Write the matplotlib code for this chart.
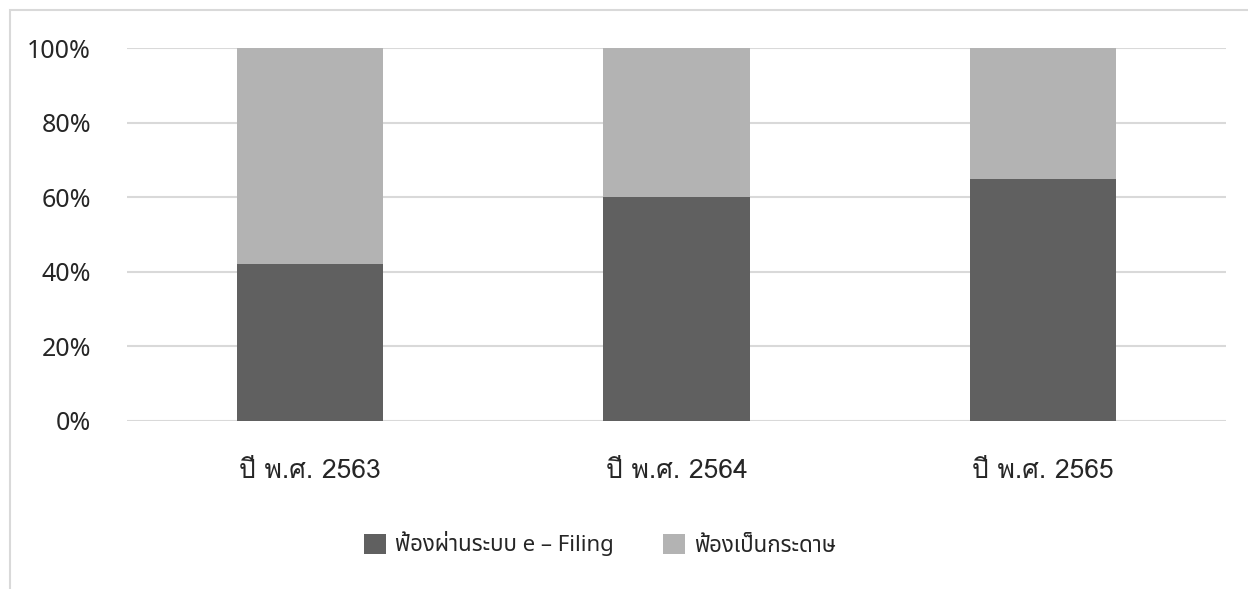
import matplotlib
matplotlib.use("Agg")
import matplotlib.pyplot as plt
from matplotlib.patches import Patch, Rectangle
from matplotlib.ticker import PercentFormatter

years = ["ปี พ.ศ. 2563", "ปี พ.ศ. 2564", "ปี พ.ศ. 2565"]
efiling = [42, 60, 65]
paper = [58, 40, 35]
series_names = ["ฟ้องผ่านระบบ e – Filing", "ฟ้องเป็นกระดาษ"]
yticks = [0, 20, 40, 60, 80, 100]

dark = "#606060"
light = "#b3b3b3"
grid = "#d9d9d9"
text_color = "#262626"

thai_sans = ["Noto Sans Thai", "Noto Sans", "DejaVu Sans"]
tick_thai = ["Loma", "Noto Sans Thai", "DejaVu Sans"]

fig = plt.figure(figsize=(12.48, 5.89), dpi=100)
W, H = 1248, 589
ax = fig.add_axes([127 / W, 1 - 421 / H, (1226 - 127) / W, (421 - 48) / H])

x = range(len(years))
ax.bar(x, efiling, width=0.4, color=dark, zorder=3)
ax.bar(x, paper, width=0.4, bottom=efiling, color=light, zorder=3)

ax.set_xlim(-0.5, len(years) - 0.5)
ax.set_ylim(0, 100)
ax.set_yticks(yticks)
ax.yaxis.set_major_formatter(PercentFormatter(decimals=0))
ax.set_xticks(list(x))
ax.set_xticklabels(years)

ax.grid(axis="y", color=grid, linewidth=1.5, zorder=0)
ax.set_axisbelow(True)
for s in ax.spines.values():
    s.set_visible(False)
ax.tick_params(axis="both", length=0)
ax.tick_params(axis="y", pad=26, labelsize=18, labelcolor=text_color)
ax.tick_params(axis="x", pad=27, labelsize=19, labelcolor=text_color)
for t in ax.get_yticklabels():
    t.set_family(thai_sans)
for t in ax.get_xticklabels():
    t.set_family(tick_thai)

# light outer frame of the chart area
fig.patches.append(Rectangle((10 / W, -0.1), 1.2, 1 - 10 / H + 0.1,
                             transform=fig.transFigure, fill=False,
                             edgecolor=grid, linewidth=1.5))

handles = [Patch(facecolor=dark), Patch(facecolor=light)]
leg = fig.legend(handles, series_names, loc="center", ncol=2,
                 bbox_to_anchor=(600 / W, 1 - 544 / H),
                 frameon=False, handlelength=1.0, handleheight=1.0,
                 handletextpad=0.4, columnspacing=2.2,
                 prop={"family": thai_sans, "size": 16})
for t in leg.get_texts():
    t.set_color(text_color)

fig.savefig("out.png", dpi=100)
